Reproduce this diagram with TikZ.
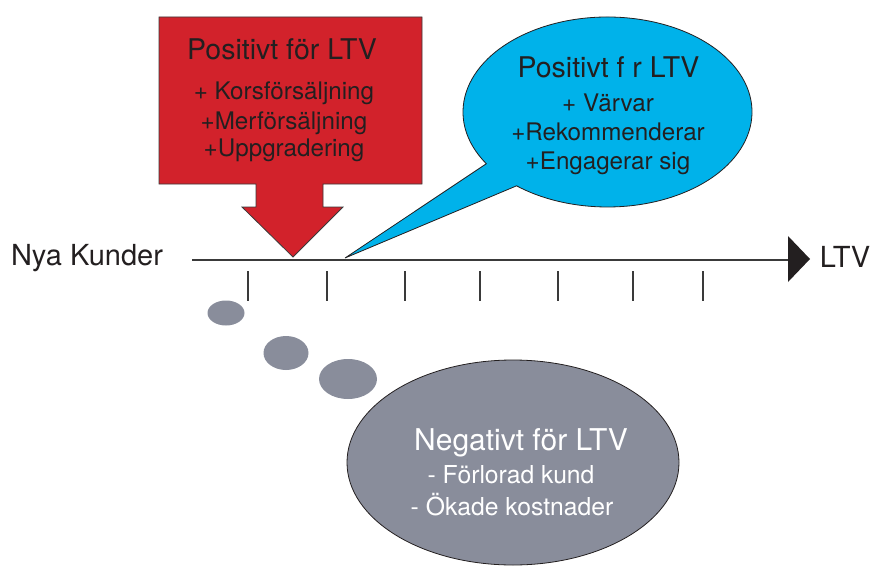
\documentclass[tikz,border=0pt]{standalone}
\usepackage{fontspec}
\setmainfont{TeX Gyre Heros}
\definecolor{redfill}{HTML}{D2222B}
\definecolor{bluefill}{HTML}{00B2EA}
\definecolor{grayfill}{HTML}{898D9B}
\definecolor{inkc}{HTML}{231F20}
\definecolor{linec}{HTML}{3A3A3A}
\tikzset{
  titletext/.style={anchor=base, text=inkc, font=\fontsize{28.5}{28.5}\selectfont, inner sep=0pt},
  bodytext/.style={anchor=base, text=inkc, font=\fontsize{24.2}{24.2}\selectfont, inner sep=0pt},
  negtitle/.style={titletext, text=white, font=\fontsize{30}{30}\selectfont},
  negbody/.style={bodytext, text=white, font=\fontsize{24.7}{24.7}\selectfont},
  sidetext/.style={anchor=base, text=inkc, font=\fontsize{29}{29}\selectfont, inner sep=0pt},
  tickline/.style={draw=linec, line width=1.3pt},
  axisline/.style={draw=linec, line width=1.3pt},
  shapeline/.style={draw=inkc, line width=0.8pt},
  dot/.style={fill=grayfill, draw=none},
}
\begin{document}
\begin{tikzpicture}[x=1pt,y=-1pt]
\useasboundingbox (0,0) rectangle (872,567);

% axis
\coordinate (axstart) at (192,260);
\coordinate (axend) at (790,260);
\draw[axisline] (axstart) -- (axend);
\fill[inkc] (788,236) -- (810,259) -- (788,282) -- cycle;
\node[sidetext] (nya) at (87,265) {Nya Kunder};
\node[sidetext] (ltv) at (845,267) {LTV};

% ticks
\foreach \tx [count=\i] in {248,327,405,480,558,633,703}{
  \draw[tickline] (\tx,271) -- (\tx,301);
}

% red box arrow
\draw[shapeline, fill=redfill, draw=linec] (159,17) -- (422,17) -- (422,184) -- (323,184) -- (323,207) -- (343,207)
  -- (293,257) -- (242,207) -- (256,207) -- (256,184) -- (159,184) -- cycle;
\node[titletext] (rt) at (282,60) {Positivt för LTV};
\node[bodytext] (r1) at (284,100) {+ Korsförsäljning};
\node[bodytext] (r2) at (284,129) {+Merförsäljning};
\node[bodytext] (r3) at (284,157) {+Uppgradering};

% blue speech bubble
\coordinate (bc) at (607.5,112);
\draw[shapeline, fill=bluefill] (345,258) -- ([shift={(147:144.5 and 95)}]bc)
  arc[start angle=147, end angle=489, x radius=144.5, y radius=95] -- cycle;
\node[titletext] (bt) at (608.5,78) {Positivt f r LTV};
\node[bodytext] (b1) at (608,112) {+ Värvar};
\node[bodytext] (b2) at (608,140) {+Rekommenderar};
\node[bodytext] (b3) at (608,169) {+Engagerar sig};

% thought bubbles
\fill[dot] (226,313) ellipse[x radius=18.5, y radius=12.5];
\fill[dot] (286,353) ellipse[x radius=22.5, y radius=17];
\fill[dot] (348,379) ellipse[x radius=29, y radius=20];
\draw[shapeline, fill=grayfill] (513,462.5) ellipse[x radius=166, y radius=102.5];
\node[negtitle] (nt) at (521,450) {Negativt för LTV};
\node[negbody] (n1) at (511,483) {- Förlorad kund};
\node[negbody] (n2) at (512,515) {- Ökade kostnader};
\end{tikzpicture}
\end{document}
